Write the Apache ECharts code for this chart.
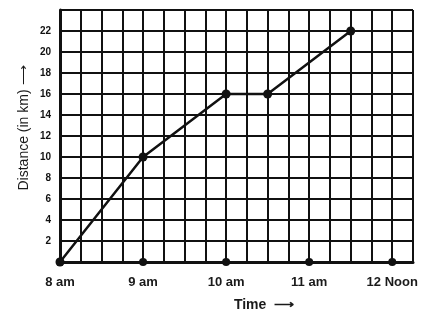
<!DOCTYPE html>
<html>
<head>
<meta charset="utf-8">
<script src="https://cdn.jsdelivr.net/npm/echarts@6/dist/echarts.min.js"></script>
<style>
  html, body { margin: 0; padding: 0; background: #fff; }
  #chart { width: 435px; height: 315px; }
</style>
</head>
<body>
<div id="chart"></div>
<script>
	// time in hours (8 = 8 am), distance in km
	const times = [8, 9, 10, 10.5, 11.5];
	const distances = [0, 10, 16, 16, 22];
	const hourTicks = [8, 9, 10, 11, 12];
	const hourLabels = ['8 am', '9 am', '10 am', '11 am', '12 Noon'];
	const distTicks = [2, 4, 6, 8, 10, 12, 14, 16, 18, 20, 22];

	var chart = echarts.init(document.getElementById('chart'));
	const font = 'Liberation Sans Narrow, Liberation Sans, Arial, sans-serif';

	option = {
	    backgroundColor: '#fff',
	    animation: false,
	    grid: {
	        left: 60,
	        top: 10,
	        width: 353,
	        height: 252
	    },
	    xAxis: {
	        type: 'value',
	        min: 8,
	        max: 12.25,
	        interval: 0.25,
	        axisLine: { show: true, lineStyle: { color: '#111', width: 3 } },
	        axisTick: { show: false },
	        axisLabel: {
	            color: '#1a1a1a',
	            fontFamily: font,
	            fontSize: 13,
	            fontWeight: 'bold',
	            margin: 14,
	            showMaxLabel: true,
	            formatter: function (v) {
	                let i = hourTicks.indexOf(v);
	                return i >= 0 ? hourLabels[i] : '';
	            }
	        },
	        splitLine: { show: true, lineStyle: { color: '#111', width: 2 } }
	    },
	    yAxis: {
	        type: 'value',
	        min: 0,
	        max: 24,
	        interval: 2,
	        axisLine: { show: true, lineStyle: { color: '#111', width: 3 } },
	        axisTick: { show: false },
	        axisLabel: {
	            color: '#111',
	            fontFamily: font,
	            fontSize: 10,
	            fontWeight: 'bold',
	            margin: 9,
	            formatter: function (v) {
	                return distTicks.indexOf(v) >= 0 ? String(v) : '';
	            }
	        },
	        splitLine: { show: true, lineStyle: { color: '#111', width: 2 } }
	    },
	    graphic: [
	        {
	            type: 'text',
	            x: 17,
	            y: 128,
	            rotation: Math.PI / 2,
	            style: {
	                text: 'Distance (in km) \u27F6',
	                fill: '#1a1a1a',
	                font: '14px ' + font,
	                textAlign: 'center',
	                textVerticalAlign: 'top'
	            }
	        },
	        {
	            type: 'text',
	            x: 264,
	            y: 305,
	            style: {
	                text: 'Time  \u27F6',
	                fill: '#1a1a1a',
	                font: 'bold 14px ' + font,
	                textAlign: 'center',
	                textVerticalAlign: 'middle'
	            }
	        }
	    ],
	    series: [
	        {
	            type: 'line',
	            z: 5,
	            data: times.map((t, i) => [t, distances[i]]),
	            symbol: 'circle',
	            symbolSize: 9,
	            lineStyle: { color: '#111', width: 2.5 },
	            itemStyle: { color: '#111' }
	        },
	        {
	            type: 'scatter',
	            z: 6,
	            data: hourTicks.map(h => [h, 0]),
	            symbolSize: 8,
	            itemStyle: { color: '#111', opacity: 1 }
	        }
	    ]
	};

	chart.setOption(option);

	window.onresize = function() {
		chart.resize();
	}
</script>
</body>
</html>
